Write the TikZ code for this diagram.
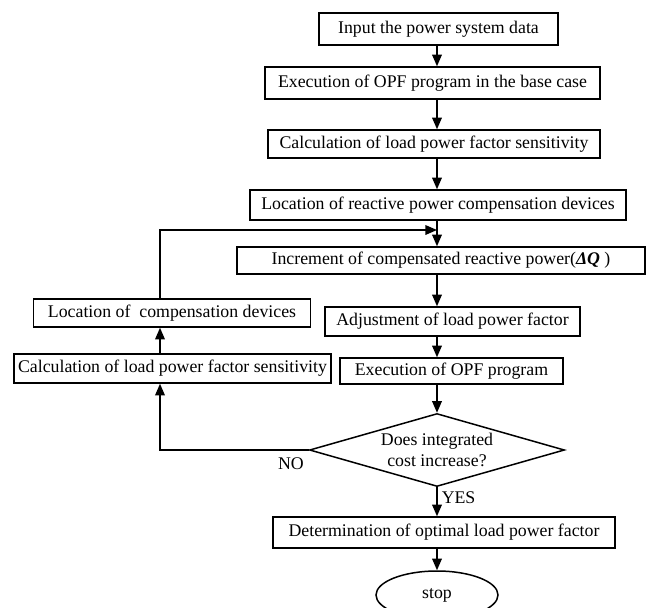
\documentclass[tikz,border=0pt]{standalone}
\usepackage{fontspec}
\setmainfont{Liberation Serif}
\usetikzlibrary{arrows.meta,shapes.geometric}

\begin{document}
\begin{tikzpicture}[x=0.5pt,y=-0.5pt,line width=0.75pt,>={Triangle[length=5.8pt,width=4.8pt]},
  font=\fontsize{8.9}{10.5}\selectfont,
  box/.style={draw,inner sep=1pt,minimum height=14.5pt,align=center},
  decision/.style={diamond,draw,aspect=3.5,inner sep=0pt,minimum width=127.5pt,minimum height=36.5pt,align=center},
  stopnode/.style={ellipse,draw,inner sep=0pt,minimum width=61pt,minimum height=24pt}]
  \useasboundingbox (0,0) rectangle (649,607);
  \coordinate (axis) at (437,0);
  \coordinate (axL) at (160,0);
  \node[box,minimum width=119.5pt,minimum height=16pt] (input) at (438.5,29) {Input the power system data};
  \node[box,minimum width=167.5pt,minimum height=16pt] (base) at (432.5,83) {Execution of OPF program in the base case};
  \node[box,minimum width=166pt,minimum height=14pt] (sens) at (434,144) {Calculation of load power factor sensitivity};
  \node[box,minimum width=188pt,minimum height=15pt] (place) at (438,205) {Location of reactive power compensation devices};
  \coordinate (join) at (437,230);
  \node[box,minimum width=204pt,minimum height=13.5pt] (incr) at (441,260.5) {Increment of compensated reactive power(\textbf{\textit{ΔQ}}\ )};
  \node[box,minimum width=127.5pt] (adjust) at (452.5,321.5) {Adjustment of load power factor};
  \node[box,minimum width=111.5pt,minimum height=13pt] (opf) at (451.5,371) {Execution of OPF program};
  \node[decision] (cost) at (437,450) {Does integrated\\cost increase?};
  \node[box,minimum width=171pt,minimum height=15.5pt] (optim) at (444,532.5) {Determination of optimal load power factor};
  \node[stopnode] (stop) at (437,595) {stop};
  \node[box,minimum width=138.5pt,minimum height=14pt] (devices) at (172,313) {Location of\ \ compensation devices};
  \node[box,minimum width=158.5pt] (sensL) at (172.5,368.5) {Calculation of load power factor sensitivity};
  \draw[->] (input.south -| axis) -- (base.north -| axis);
  \draw[->] (base.south -| axis) -- (sens.north -| axis);
  \draw[->] (sens.south -| axis) -- (place.north -| axis);
  \draw[->] (place.south -| axis) -- (incr.north -| axis);
  \draw[->] (incr.south -| axis) -- (adjust.north -| axis);
  \draw[->] (adjust.south -| axis) -- (opf.north -| axis);
  \draw[->] (opf.south -| axis) -- (cost.north);
  \draw[->] (cost.south) -- node[right,pos=0.35,inner sep=2pt] (yes) {YES} (optim.north -| axis);
  \draw[->] (optim.south -| axis) -- (stop.north);
  \draw[->] (cost.west) -| node[pos=0.06,below] (no) {NO} (sensL.south -| axL);
  \draw[->] (sensL.north -| axL) -- (devices.south -| axL);
  \draw[->] (devices.north -| axL) |- (join);
\end{tikzpicture}
\end{document}
